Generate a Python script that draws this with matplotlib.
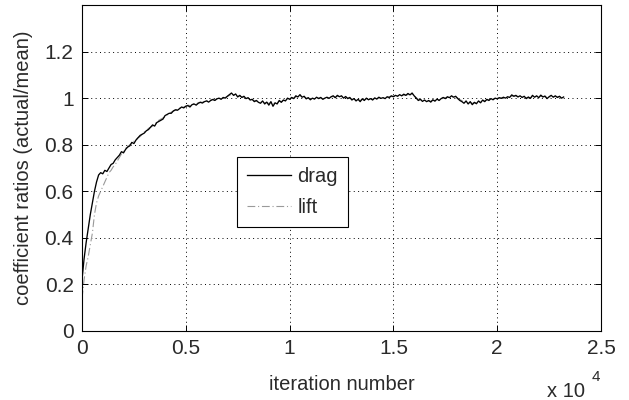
import numpy as np
import matplotlib
matplotlib.use("Agg")
import matplotlib.pyplot as plt

# Sampling interval of the recorded coefficient history (iterations)
step = 100

drag = [
    0.22, 0.31, 0.38, 0.44, 0.50, 0.55, 0.60, 0.64, 0.67, 0.68,
    0.675, 0.69, 0.685, 0.70, 0.715, 0.72, 0.735, 0.745, 0.755, 0.77,
    0.765, 0.78, 0.79, 0.795, 0.81, 0.805, 0.82, 0.83, 0.84, 0.845,
    0.85, 0.86, 0.865, 0.875, 0.885, 0.88, 0.895, 0.90, 0.905, 0.91,
    0.925, 0.93, 0.935, 0.935, 0.945, 0.95, 0.948, 0.955, 0.962, 0.958,
    0.965, 0.968, 0.962, 0.972, 0.975, 0.97, 0.978, 0.982, 0.979, 0.985,
    0.988, 0.983, 0.99, 0.994, 0.99, 0.997, 1.0, 0.995, 1.003, 1.0,
    1.008, 1.015, 1.022, 1.012, 1.018, 1.005, 1.012, 1.003, 1.008, 0.998,
    1.002, 0.992, 0.995, 0.985, 0.99, 0.982, 0.978, 0.988, 0.975, 0.983,
    0.97, 0.985, 0.965, 0.98, 0.975, 0.99, 0.982, 0.992, 0.988, 1.0,
    0.995, 1.003, 0.998, 1.01, 1.005, 1.015, 1.004, 1.008, 0.997, 1.002,
    0.993, 1.0, 0.996, 1.004, 0.998, 1.003, 0.995, 1.0, 1.004, 0.999,
    1.006, 1.01, 1.002, 1.012, 1.006, 1.01, 1.0, 1.007, 0.998, 1.003,
    0.992, 0.998, 0.988, 0.995, 0.985, 0.997, 0.99, 1.0, 0.993, 0.998,
    0.992, 1.001, 0.996, 1.004, 0.999, 1.002, 0.998, 1.006, 1.003, 1.01,
    1.006, 1.012, 1.008, 1.015, 1.01, 1.017, 1.012, 1.02, 1.014, 1.022,
    1.01, 1.0, 0.99, 0.995, 0.986, 0.992, 0.985, 0.99, 0.983, 0.993,
    0.987, 0.996, 0.99, 0.998, 1.003, 0.998, 1.006, 1.002, 1.01, 1.004,
    1.008, 0.998, 0.99, 0.985, 0.978, 0.988, 0.975, 0.985, 0.972, 0.982,
    0.976, 0.988, 0.98, 0.992, 0.985, 0.995, 0.99, 0.998, 0.993, 1.0,
    0.997, 1.002, 0.999, 1.004, 1.0, 1.006, 1.003, 1.014, 1.008, 1.012,
    1.005, 1.01, 1.003, 1.008, 0.998, 1.005, 0.999, 1.012, 1.004, 1.01,
    1.002, 1.013, 1.005, 1.009, 0.998, 1.006, 1.012, 1.004, 1.01, 1.003,
    1.008, 1.0, 1.005,
]

lift = [
    0.14, 0.22, 0.28, 0.32, 0.37, 0.42, 0.50, 0.55, 0.58, 0.60,
    0.62, 0.64, 0.66, 0.68, 0.69, 0.705, 0.715, 0.73, 0.745, 0.76,
    0.77, 0.785, 0.79, 0.80, 0.805, 0.815, 0.82, 0.83, 0.835, 0.845,
    0.855, 0.86, 0.87, 0.875, 0.88, 0.89, 0.895, 0.905, 0.91, 0.915,
    0.92, 0.928, 0.932, 0.94, 0.944, 0.948, 0.953, 0.957, 0.96, 0.962,
    0.966, 0.97, 0.968, 0.974, 0.976, 0.975, 0.98, 0.983, 0.982, 0.987,
    0.99, 0.988, 0.992, 0.995, 0.993, 0.998, 1.0, 0.998, 1.002, 1.003,
    1.007, 1.012, 1.016, 1.013, 1.014, 1.008, 1.009, 1.004, 1.005, 1.0,
    0.999, 0.995, 0.993, 0.989, 0.988, 0.985, 0.982, 0.984, 0.98, 0.981,
    0.977, 0.982, 0.975, 0.98, 0.979, 0.987, 0.985, 0.99, 0.99, 0.997,
    0.997, 1.0, 1.0, 1.006, 1.006, 1.01, 1.006, 1.006, 1.0, 1.0,
    0.997, 0.998, 0.998, 1.001, 1.0, 1.001, 0.998, 0.999, 1.002, 1.001,
    1.004, 1.007, 1.004, 1.008, 1.007, 1.007, 1.003, 1.004, 1.0, 1.0,
    0.996, 0.996, 0.992, 0.993, 0.99, 0.994, 0.993, 0.997, 0.996, 0.997,
    0.995, 0.999, 0.998, 1.001, 1.0, 1.001, 1.0, 1.003, 1.004, 1.007,
    1.007, 1.009, 1.009, 1.011, 1.011, 1.013, 1.013, 1.015, 1.015, 1.016,
    1.01, 1.002, 0.995, 0.994, 0.99, 0.99, 0.988, 0.988, 0.987, 0.99,
    0.99, 0.993, 0.993, 0.996, 1.0, 1.0, 1.003, 1.003, 1.006, 1.005,
    1.005, 1.0, 0.994, 0.989, 0.984, 0.984, 0.98, 0.981, 0.978, 0.979,
    0.98, 0.984, 0.984, 0.988, 0.988, 0.992, 0.993, 0.996, 0.996, 0.998,
    0.999, 1.0, 1.001, 1.002, 1.002, 1.004, 1.005, 1.009, 1.009, 1.009,
    1.007, 1.007, 1.005, 1.005, 1.002, 1.002, 1.002, 1.007, 1.006, 1.007,
    1.005, 1.008, 1.007, 1.006, 1.003, 1.004, 1.007, 1.006, 1.007, 1.005,
    1.006, 1.003, 1.004,
]

xticks = [0, 0.5e4, 1.0e4, 1.5e4, 2.0e4, 2.5e4]
xticklabels = ["0", "0.5", "1", "1.5", "2", "2.5"]
yticks = [0, 0.2, 0.4, 0.6, 0.8, 1.0, 1.2]
yticklabels = ["0", "0.2", "0.4", "0.6", "0.8", "1", "1.2"]

plt.rcParams["font.family"] = ["Liberation Sans", "DejaVu Sans"]
txt = "#2a2a2a"

W, H = 629, 400
fig = plt.figure(figsize=(W / 100, H / 100), dpi=100)
ax = fig.add_axes([82 / W, 1 - 331 / H, (601 - 82) / W, (331 - 5) / H])

it_drag = np.arange(len(drag)) * step
it_lift = np.arange(len(lift)) * step

ax.plot(it_lift, lift, color="#9a9a9a", lw=0.8,
        dashes=(7, 2.5, 1, 2.5), label="lift", zorder=2)
ax.plot(it_drag, drag, color="black", lw=0.95, label="drag", zorder=3)

ax.set_xlim(0, 2.5e4)
ax.set_ylim(0, 1.4)
ax.set_xticks(xticks)
ax.set_xticklabels(xticklabels)
ax.set_yticks(yticks)
ax.set_yticklabels(yticklabels)

ax.grid(True, color="black", linestyle=(0, (1, 3.5)), linewidth=0.7)
ax.tick_params(direction="in", length=4, width=0.7, top=True, right=True,
               labelsize=15, labelcolor=txt, pad=6)
for s in ax.spines.values():
    s.set_linewidth(0.8)
    s.set_color("black")

ax.set_xlabel("iteration number", fontsize=14.5, color=txt, labelpad=12)
ax.set_ylabel("coefficient ratios (actual/mean)", fontsize=14.5, color=txt,
              labelpad=8)

# exponent marker for the x axis
fig.text(547 / W, 1 - 397 / H, "x 10", fontsize=14.5, color=txt,
         ha="left", va="baseline")
fig.text(592 / W, 1 - 381 / H, "4", fontsize=11, color=txt,
         ha="left", va="baseline")

handles, labels = ax.get_legend_handles_labels()
leg = ax.legend(handles[::-1], labels[::-1],
                loc="upper left", bbox_to_anchor=(237 / W, 1 - 157 / H),
                bbox_transform=fig.transFigure, borderaxespad=0,
                fontsize=14.5, handlelength=2.2, handletextpad=0.3,
                labelspacing=0.6, borderpad=0.5, fancybox=False,
                framealpha=1, edgecolor="black")
leg.get_frame().set_linewidth(0.8)
for t in leg.get_texts():
    t.set_color(txt)

fig.savefig("out.png", dpi=100)
